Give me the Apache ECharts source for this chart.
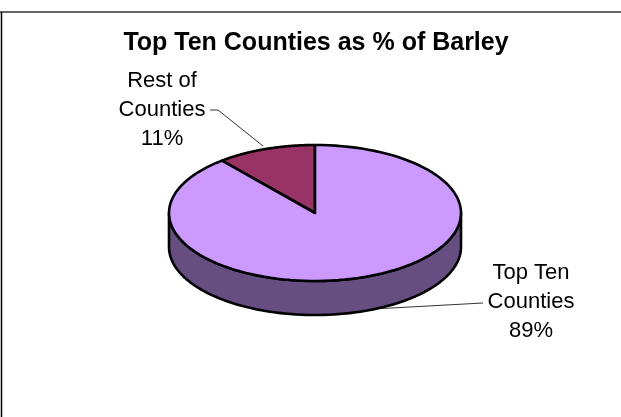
<!DOCTYPE html>
<html><head><meta charset="utf-8">
<style>html,body{margin:0;padding:0;background:#fff}#c{width:621px;height:417px}</style>
<script src="https://cdn.jsdelivr.net/npm/echarts@6/dist/echarts.min.js"></script>
</head><body><div id="c"></div>
<script>
var chartTitle = 'Top Ten Counties as % of Barley';
var categories = ['Rest of\nCounties', 'Top Ten\nCounties'];
var values = [11, 89];
var topColors = ['#993366', '#CC99FF'];
var sideColors = ['#4D1A33', '#664F80'];
var FONT = '"Liberation Sans", Arial, sans-serif';
var cx = 315, cy = 213, rx = 146, ry = 68, depth = 34;
var total = values.reduce(function (a, b) { return a + b; }, 0);
function pt(a, dy) { return [cx - rx * Math.sin(a), cy - ry * Math.cos(a) + (dy || 0)]; }
function angleOf(i) {
  var s = 0; for (var k = 0; k < i; k++) s += values[k];
  return s / total * Math.PI * 2;
}
function sector(a0, a1) {
  var p = [[cx, cy]], n = 120;
  for (var i = 0; i <= n; i++) p.push(pt(a0 + (a1 - a0) * i / n));
  return p;
}
function sideWall() {
  var pts = [], n = 100, i;
  for (i = 0; i <= n; i++) pts.push(pt(Math.PI / 2 + Math.PI * i / n));
  for (i = n; i >= 0; i--) pts.push(pt(Math.PI / 2 + Math.PI * i / n, depth));
  return pts;
}
var chart = echarts.init(document.getElementById('c'), null, { renderer: 'canvas' });
chart.setOption({
  animation: false,
  backgroundColor: '#fff',
  title: { text: chartTitle, left: 311, top: 26, textAlign: 'center',
    textStyle: { fontFamily: FONT, fontSize: 25, fontWeight: 'bold', color: '#000' } },
  series: [{
    type: 'custom', coordinateSystem: 'none', silent: true,
    data: values.map(function (v, i) { return { value: v, name: categories[i] }; }),
    renderItem: function (params) {
      var i = params.dataIndex, ch = [];
      var a0 = angleOf(i), a1 = angleOf(i + 1);
      var pct = Math.round(values[i] / total * 100) + '%';
      if (i === 1) {
        ch.push({ type: 'polygon', shape: { points: sideWall() }, style: { fill: sideColors[1], stroke: '#000', lineWidth: 2.6, lineJoin: 'round' } });
      }
      ch.push({ type: 'polygon', shape: { points: sector(a0, a1) }, style: { fill: topColors[i], stroke: '#000', lineWidth: 2.6, lineJoin: 'round' } });
      var lab = i === 0
        ? { x: 162, y: 66, line: [[210, 110], [218, 110], [263, 146]] }
        : { x: 531, y: 258.5, line: [[483, 303], [373, 309]] };
      ch.push({ type: 'polyline', shape: { points: lab.line }, style: { fill: null, stroke: '#000', lineWidth: 0.8 } });
      ch.push({ type: 'text', style: { x: lab.x, y: lab.y, text: categories[i] + '\n' + pct, fill: '#000',
        font: '22px ' + FONT, align: 'center', verticalAlign: 'top', lineHeight: 29 } });
      return { type: 'group', children: ch };
    }
  }],
  graphic: [
    { type: 'line', shape: { x1: 0, y1: 12, x2: 621, y2: 12 }, style: { stroke: '#333', lineWidth: 1.5 } },
    { type: 'line', shape: { x1: 1.5, y1: 12, x2: 1.5, y2: 417 }, style: { stroke: '#000', lineWidth: 1.5 } }
  ]
});
</script></body></html>
